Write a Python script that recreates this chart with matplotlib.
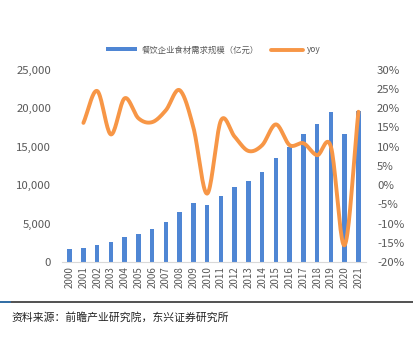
import numpy as np
import matplotlib
matplotlib.use("Agg")
from matplotlib import pyplot as plt
from matplotlib.ticker import FuncFormatter

plt.rcParams['font.family'] = ['Noto Sans CJK SC', 'DejaVu Sans']

# Daten
years = ['2000', '2001', '2002', '2003', '2004', '2005', '2006', '2007', '2008', '2009', '2010',
         '2011', '2012', '2013', '2014', '2015', '2016', '2017', '2018', '2019', '2020', '2021']
scale = [1650, 1780, 2210, 2560, 3210, 3650, 4300, 5250, 6510, 7640, 7420,
         8590, 9800, 10590, 11680, 13580, 15010, 16630, 17970, 19570, 16630, 19700]
# yoy ab 2001 (in %)
yoy = [16.2, 24.5, 13.2, 22.6, 17.4, 16.4, 19.5, 24.7, 15.0, -2.2,
       16.8, 12.6, 8.9, 10.4, 15.8, 10.4, 10.9, 7.8, 10.0, -15.6, 19.1]

bar_label = '餐饮企业食材需求规模（亿元）'
line_label = 'yoy'
source = '资料来源：前瞻产业研究院，东兴证券研究所'

blue = '#4F86D4'
orange = '#F79646'
grey = '#595959'


# Glatte Kurve wie in Excel (Catmull-Rom)
def smooth(x, y, n=20):
    x = np.asarray(x, float)
    y = np.asarray(y, float)
    px = np.concatenate(([2 * x[0] - x[1]], x, [2 * x[-1] - x[-2]]))
    py = np.concatenate(([2 * y[0] - y[1]], y, [2 * y[-1] - y[-2]]))
    xs, ys = [], []
    t = np.linspace(0, 1, n, endpoint=False)
    for i in range(1, len(px) - 2):
        for p, out in ((px, xs), (py, ys)):
            p0, p1, p2, p3 = p[i - 1], p[i], p[i + 1], p[i + 2]
            out.extend(0.5 * ((2 * p1) + (-p0 + p2) * t
                              + (2 * p0 - 5 * p1 + 4 * p2 - p3) * t ** 2
                              + (-p0 + 3 * p1 - 3 * p2 + p3) * t ** 3))
    xs.append(x[-1])
    ys.append(y[-1])
    return np.array(xs), np.array(ys)


fig = plt.figure(figsize=(4.14, 3.39), dpi=100)
ax = fig.add_axes([0.150, 0.227, 0.734, 0.567])
x = np.arange(len(years))

bars = ax.bar(x, scale, width=0.32, color=blue, label=bar_label, zorder=2)
ax.set_ylim(0, 25000)
ax.set_yticks(range(0, 25001, 5000))
ax.yaxis.set_major_formatter(FuncFormatter(lambda v, p: f'{int(v):,}'))
ax.set_xlim(-0.55, len(years) - 0.45)
ax.set_xticks(x)
ax.set_xticklabels(years, rotation=90, fontsize=7, color=grey)
ax.tick_params(axis='y', labelsize=8.2, colors=grey, length=0, pad=8)
ax.tick_params(axis='x', length=0, pad=3)
for s in ['top', 'right', 'left']:
    ax.spines[s].set_visible(False)
ax.spines['bottom'].set_color('#D9D9D9')

ax2 = ax.twinx()
sx, sy = smooth(x[1:], yoy)
line, = ax2.plot(sx, sy, color=orange, lw=2.8, label=line_label, solid_capstyle='round', zorder=3)
ax2.set_ylim(-20, 30)
ax2.set_yticks(range(-20, 31, 5))
ax2.yaxis.set_major_formatter(FuncFormatter(lambda v, p: f'{int(v)}%'))
ax2.tick_params(axis='y', labelsize=8.2, colors=grey, length=0, pad=8)
for s in ['top', 'right', 'left', 'bottom']:
    ax2.spines[s].set_visible(False)

fig.legend([bars, line], [bar_label, line_label], loc='center', bbox_to_anchor=(0.515, 0.853),
           ncol=2, frameon=False, fontsize=6, labelcolor=grey, handlelength=3.8,
           handleheight=0.4, columnspacing=1.5, handletextpad=0.5)

# Trennlinie und Quelle
fig.add_artist(plt.Line2D([0, 1], [0.108, 0.108], color='#333333', lw=1.2))
fig.add_artist(plt.Line2D([0, 0.025], [0.108, 0.108], color='#2E75B6', lw=1.2))
fig.text(0.028, 0.064, source, fontsize=7.8, color='#222222', va='center', style='italic')

fig.savefig('out.png', dpi=100)
